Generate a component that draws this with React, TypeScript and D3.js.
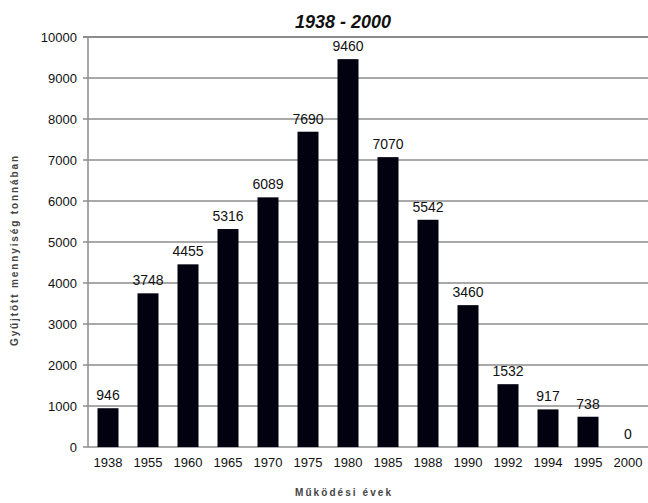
import { useEffect, useRef } from "react";
import * as d3 from "d3";

const years = ["1938", "1955", "1960", "1965", "1970", "1975", "1980", "1985", "1988", "1990", "1992", "1994", "1995", "2000"];
const amounts = [946, 3748, 4455, 5316, 6089, 7690, 9460, 7070, 5542, 3460, 1532, 917, 738, 0];
const yTicks = [0, 1000, 2000, 3000, 4000, 5000, 6000, 7000, 8000, 9000, 10000];

const W = 648;
const H = 503;

export default function App() {
  const svgRef = useRef<SVGSVGElement>(null);

  useEffect(() => {
    const svg = d3.select(svgRef.current);
    svg.selectAll("*").remove();

    const margin = { top: 37, right: 0, bottom: 56, left: 88 };
    const font = "'Liberation Sans', Arial, sans-serif";

    const x = d3.scaleBand()
      .domain(years)
      .range([margin.left, W - margin.right])
      .paddingInner(0.475)
      .paddingOuter(0.2375);

    const y = d3.scaleLinear()
      .domain([0, 10000])
      .range([H - margin.bottom, margin.top]);

    svg.append("rect").attr("width", W).attr("height", H).attr("fill", "#fff");

    // grid
    svg.append("g")
      .selectAll("line")
      .data(yTicks)
      .join("line")
      .attr("x1", margin.left - 5)
      .attr("x2", W)
      .attr("y1", d => y(d))
      .attr("y2", d => y(d))
      .attr("stroke", "#8c8c8c")
      .attr("stroke-width", d => (d === 10000 ? 2 : 1.5));

    // y axis line
    svg.append("line")
      .attr("x1", margin.left).attr("x2", margin.left)
      .attr("y1", y(10000)).attr("y2", y(0))
      .attr("stroke", "#8c8c8c").attr("stroke-width", 1.5);

    svg.append("g")
      .selectAll("text")
      .data(yTicks)
      .join("text")
      .attr("x", margin.left - 11)
      .attr("y", d => y(d) + 4.5)
      .attr("text-anchor", "end")
      .attr("font-family", font)
      .attr("font-size", 13)
      .attr("fill", "#111")
      .text(d => d);

    // bars
    svg.append("g")
      .selectAll("rect")
      .data(amounts)
      .join("rect")
      .attr("x", (_, i) => x(years[i])!)
      .attr("width", x.bandwidth())
      .attr("y", d => y(d))
      .attr("height", d => y(0) - y(d))
      .attr("fill", "#02010f");

    // value labels
    svg.append("g")
      .selectAll("text")
      .data(amounts)
      .join("text")
      .attr("x", (_, i) => x(years[i])! + x.bandwidth() / 2)
      .attr("y", d => y(d) - 8)
      .attr("text-anchor", "middle")
      .attr("font-family", font)
      .attr("font-size", 14)
      .attr("fill", "#111")
      .text(d => d);

    // x tick labels
    svg.append("g")
      .selectAll("text")
      .data(years)
      .join("text")
      .attr("x", d => x(d)! + x.bandwidth() / 2)
      .attr("y", y(0) + 20)
      .attr("text-anchor", "middle")
      .attr("font-family", font)
      .attr("font-size", 13)
      .attr("fill", "#111")
      .text(d => d);

    // title
    svg.append("text")
      .attr("x", 343)
      .attr("y", 28)
      .attr("text-anchor", "middle")
      .attr("font-family", font)
      .attr("font-size", 18)
      .attr("font-weight", "bold")
      .attr("font-style", "italic")
      .attr("fill", "#111")
      .text("1938 - 2000");

    // axis titles
    svg.append("text")
      .attr("x", 343)
      .attr("y", 496)
      .attr("text-anchor", "middle")
      .attr("font-family", font)
      .attr("font-size", 10)
      .attr("font-weight", "bold")
      .attr("textLength", 96)
      .attr("fill", "#444")
      .text("Működési évek");

    svg.append("text")
      .attr("transform", "translate(18,251) rotate(-90)")
      .attr("text-anchor", "middle")
      .attr("font-family", font)
      .attr("font-size", 10)
      .attr("font-weight", "bold")
      .attr("textLength", 190)
      .attr("fill", "#444")
      .text("Gyűjtött mennyiség tonnában");
  }, []);

  return (
    <div style={{ position: "absolute", left: 0, top: 0 }}>
      <svg ref={svgRef} width={W} height={H}></svg>
    </div>
  );
}
